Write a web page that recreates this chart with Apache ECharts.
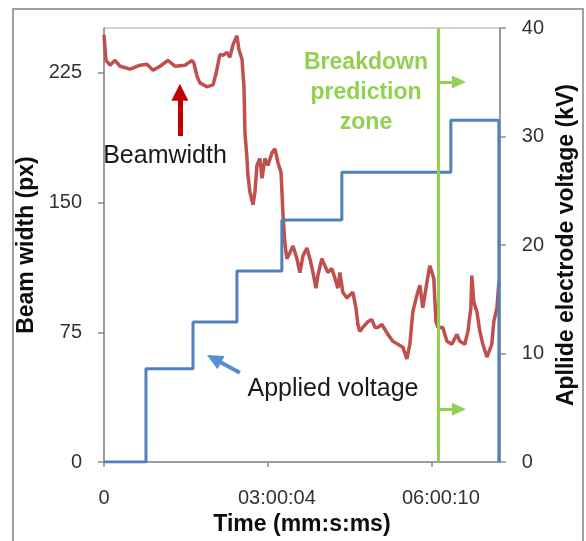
<!DOCTYPE html>
<html>
<head>
<meta charset="utf-8">
<script src="https://cdn.jsdelivr.net/npm/echarts@6/dist/echarts.min.js"></script>
<style>
  html, body { margin: 0; padding: 0; background: #ffffff; }
  #chart { width: 586px; height: 541px; }
</style>
</head>
<body>
<div id="chart"></div>
<script>
// ---- data ----
const timeTicks = [0, 100, 200];
const timeTickLabels = ['0', '03:00:04', '06:00:10'];
const beamTicks = [0, 75, 150, 225];
const voltTicks = [0, 10, 20, 30, 40];

const beamTime = [0, 1.2, 3.7, 6.7, 9.8, 15.9, 22.0, 26.2, 29.9, 34.2, 39.0, 43.3, 49.4, 53.7, 54.9, 56.7, 58.5, 62.8, 66.5, 68.3,
  70.7, 72.6, 75.0, 76.8, 78.7, 81.1, 82.3, 84.2, 85.4, 86.0, 87.2, 87.8, 89.0, 90.9, 92.1, 93.3, 95.1, 96.4, 98.2, 100.0,
  102.5, 104.3, 106.1, 108.0, 109.2, 110.4, 111.6, 113.4, 115.3, 117.7, 119.5, 121.4, 123.8, 125.6, 127.5, 129.3, 130.5, 132.9, 134.8, 136.6,
  139.0, 140.9, 142.7, 143.9, 145.7, 148.2, 150.0, 151.8, 153.7, 154.9, 156.1, 157.9, 161.0, 163.4, 165.3, 167.1, 169.5, 171.4, 173.2, 176.2,
  179.3, 182.3, 184.8, 186.6, 188.4, 190.9, 192.7, 194.5, 197.0, 198.8, 200.0, 201.2, 202.5, 203.7, 206.7, 209.2, 212.2, 215.3, 217.1, 220.1,
  222.0, 223.8, 224.4, 225.6, 227.5, 229.3, 231.1, 233.6, 234.8, 236.6, 237.8, 239.7, 240.9];
const beamWidth = [246.9, 232.1, 229.3, 232.1, 228.7, 227.0, 229.3, 229.8, 226.4, 228.7, 232.1, 228.7, 229.3, 232.1, 230.4, 223.0, 219.1, 216.8, 217.9, 224.2,
  235.5, 235.0, 236.7, 233.8, 241.2, 246.3, 238.4, 232.7, 216.8, 190.1, 175.9, 165.7, 156.1, 148.7, 156.1, 171.4, 175.4, 164.0, 175.4, 171.4,
  178.8, 181.0, 173.1, 167.4, 143.0, 126.0, 117.5, 120.9, 124.9, 117.5, 109.5, 119.2, 123.7, 117.5, 109.5, 100.5, 107.8, 117.5, 113.5, 109.5,
  111.8, 106.1, 100.5, 109.5, 98.2, 94.8, 96.5, 98.2, 89.1, 79.5, 75.5, 77.8, 81.2, 82.3, 77.8, 77.8, 79.5, 76.6, 73.8, 69.8,
  68.1, 66.4, 59.6, 68.1, 86.8, 96.5, 102.2, 89.1, 103.9, 113.5, 114.6, 106.1, 81.2, 77.8, 77.8, 69.8, 68.1, 73.8, 69.8, 68.1,
  75.5, 89.1, 107.8, 92.5, 86.8, 75.5, 68.1, 60.7, 59.6, 68.1, 81.2, 89.1, 103.9];

const voltTime = [0, 25.6, 54.3, 81.1, 108.5, 145.1, 211.6, 240.9];
const voltLevel = [0, 8.6, 12.9, 17.6, 22.3, 26.7, 31.5, 0];

const zoneStart = 204;

// ---- chart ----
const FONT = "'Liberation Sans', Arial, sans-serif";
const chart = echarts.init(document.getElementById('chart'), null, { renderer: 'canvas' });

const beamData = beamTime.map((t, i) => [t, beamWidth[i]]);
const voltData = voltTime.map((t, i) => [t, voltLevel[i]]);

function arrow(from, to, color, width, size) {
  return [
    { coord: from, symbol: 'none', lineStyle: { color: color, width: width, type: 'solid' } },
    { coord: to, symbol: 'triangle', symbolSize: size }
  ];
}

const option = {
  animation: false,
  backgroundColor: '#ffffff',
  grid: { left: 104, right: 86, top: 28, bottom: 71, show: true, borderColor: '#a6a6a6', borderWidth: 1 },
  xAxis: {
    type: 'value', min: 0, max: 241.5,
    axisLine: { show: true, lineStyle: { color: '#8c8c8c', width: 1.5 } },
    axisTick: { show: true, length: 5, customValues: timeTicks, lineStyle: { color: '#8c8c8c', width: 1.5 } },
    splitLine: { show: false },
    axisLabel: {
      customValues: timeTicks, margin: 26, color: '#333333', fontFamily: FONT, fontSize: 20,
      formatter: function (v) {
        const i = timeTicks.indexOf(v);
        const s = i >= 0 ? timeTickLabels[i] : '';
        return v === 0 ? s : '{s|' + s + '}';
      },
      rich: { s: { padding: [0, 0, 0, 18], fontFamily: FONT, fontSize: 20, color: '#333333' } }
    },
    name: 'Time (mm:s:ms)', nameLocation: 'middle', nameGap: 42,
    nameTextStyle: { fontFamily: FONT, fontSize: 23, fontWeight: 'bold', color: '#0d0d0d' }
  },
  yAxis: [
    {
      type: 'value', min: 0, max: 250.8, interval: 75, position: 'left',
      axisLine: { show: true, lineStyle: { color: '#8c8c8c', width: 1.5 } },
      axisTick: { show: true, length: 6, customValues: beamTicks, lineStyle: { color: '#8c8c8c', width: 1.5 } },
      splitLine: { show: false },
      axisLabel: { customValues: beamTicks, margin: 22, color: '#333333', fontFamily: FONT, fontSize: 20 },
      name: 'Beam width (px)', nameLocation: 'middle', nameGap: 61,
      nameTextStyle: { fontFamily: FONT, fontSize: 23, fontWeight: 'bold', color: '#0d0d0d' }
    },
    {
      type: 'value', min: 0, max: 40, interval: 10, position: 'right',
      axisLine: { show: true, lineStyle: { color: '#8c8c8c', width: 1.5 } },
      axisTick: { show: true, length: 6, lineStyle: { color: '#8c8c8c', width: 1.5 } },
      splitLine: { show: false },
      axisLabel: { margin: 22, color: '#333333', fontFamily: FONT, fontSize: 20 },
      name: 'Apllide electrode voltage (kV)', nameLocation: 'middle', nameGap: 55,
      nameTextStyle: { fontFamily: FONT, fontSize: 23, fontWeight: 'bold', color: '#0d0d0d' }
    }
  ],
  series: [
    {
      name: 'Beamwidth', type: 'line', yAxisIndex: 0, data: beamData,
      showSymbol: false, symbol: 'none',
      lineStyle: { color: '#c0504d', width: 3.5 },
      silent: true, z: 2
    },
    {
      name: 'Applied voltage', type: 'line', yAxisIndex: 1, data: voltData, step: 'end',
      showSymbol: false, symbol: 'none',
      lineStyle: { color: '#4f81bd', width: 3 },
      silent: true, z: 3
    },
    {
      name: 'annotations', type: 'line', yAxisIndex: 0, data: [],
      silent: true,
      markLine: {
        silent: true, animation: false,
        label: { show: false },
        emphasis: { disabled: true },
        data: [
          [
            { coord: [zoneStart, 0], symbol: 'none', lineStyle: { color: '#92d050', width: 3, type: 'solid' } },
            { coord: [zoneStart, 250.8], symbol: 'none' }
          ],
          arrow([zoneStart, 219.6], [216.5, 219.6], '#92d050', 3, [13, 14]),
          arrow([zoneStart, 30.6], [216.5, 30.6], '#92d050', 3, [13, 14]),
          arrow([46.3, 188.4], [46.3, 213.7], '#c00000', 5, [17, 17]),
          arrow([82.9, 51.6], [67.1, 59.7], '#558ed5', 4, [15, 16])
        ]
      }
    }
  ],
  graphic: [
    { type: 'rect', z: -10, shape: { x: 13, y: 9, width: 570, height: 600 },
      style: { fill: 'none', stroke: '#a0a0a0', lineWidth: 2 } },
    { type: 'text', x: 165, y: 156, z: 50,
      style: { text: 'Beamwidth', fill: '#1a1a1a', font: "25px 'Liberation Sans', Arial, sans-serif",
        textAlign: 'center', textVerticalAlign: 'middle' } },
    { type: 'text', x: 333, y: 389, z: 50,
      style: { text: 'Applied voltage', fill: '#1a1a1a', font: "25px 'Liberation Sans', Arial, sans-serif",
        textAlign: 'center', textVerticalAlign: 'middle' } },
    { type: 'text', x: 366, y: 92.5, z: 50,
      style: { text: 'Breakdown\nprediction\nzone', fill: '#92d050', font: "bold 23px 'Liberation Sans', Arial, sans-serif",
        lineHeight: 30, textAlign: 'center', textVerticalAlign: 'middle' } }
  ]
};

chart.setOption(option);
</script>
</body>
</html>
